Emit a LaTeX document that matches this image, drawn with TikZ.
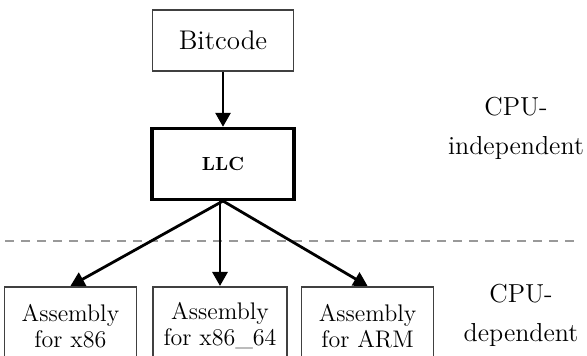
\documentclass[tikz,border=0pt]{standalone}
\usetikzlibrary{positioning,arrows.meta}

\begin{document}
\begin{tikzpicture}[x=0.5pt,y=-0.5pt,
    main/.style={draw=black!75, line width=0.8pt, align=center, inner sep=0pt},
    stage/.style={main, draw=black, line width=1.6pt, minimum width=71pt, minimum height=35.5pt, font=\bfseries\fontsize{9.5}{11}\selectfont},
    target/.style={main, minimum width=66pt, minimum height=39pt, font=\fontsize{12}{13}\selectfont},
    flow/.style={line width=1.4pt, -{Triangle[length=7pt,width=7.5pt]}},
    side/.style={align=center, font=\fontsize{13}{19.5}\selectfont}]
    \useasboundingbox (0,0) rectangle (587,356);

    \node[main, minimum width=70.5pt, minimum height=30.5pt, font=\fontsize{13.5}{15}\selectfont] (bitcode) at (223,40.5) {Bitcode};
    \node[stage, below=27.5pt of bitcode] (llc) {LLC};

    \node[target, minimum width=67pt, below=42.5pt of llc, xshift=-1.5pt] (x8664) {Assembly\\for x86\_64};
    \node[target, left=7.5pt of x8664] (x86) {Assembly\\for x86};
    \node[target, right=6.5pt of x8664] (arm) {Assembly\\for ARM};

    \node[side] (indep) at (516,128) {CPU-\\independent};
    \node[side] (dep) at (521,315) {CPU-\\dependent};

    % border between the two halves
    \coordinate (cutL) at (5,241);
    \coordinate (cutR) at (577,241);
    \draw[black!40, line width=1pt, dash pattern=on 4.5pt off 3.5pt] (cutL) -- (cutR);

    \draw[flow] (bitcode) -- (llc);
    \draw[flow] (llc.south) -- (x86.north);
    \draw[flow] (x8664.north |- llc.south) -- (x8664.north);
    \draw[flow] (llc.south) -- (arm.north);
\end{tikzpicture}
\end{document}
